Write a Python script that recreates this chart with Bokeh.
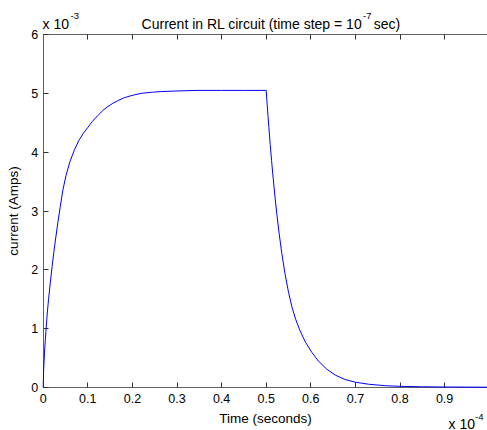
import math
from bokeh.plotting import figure
from bokeh.models import Range1d, LinearAxis, FixedTicker, Label, CustomJSTickFormatter
from bokeh.embed import file_html
from bokeh.resources import INLINE

# time in units of 1e-4 s, current in units of 1e-3 A
time_e4 = [0.0, 0.001, 0.003, 0.006, 0.009, 0.012, 0.016, 0.020, 0.024, 0.028,
           0.033, 0.038, 0.044, 0.051, 0.060, 0.070, 0.080, 0.090, 0.100, 0.110,
           0.122, 0.134, 0.144, 0.156, 0.167, 0.180, 0.190, 0.205, 0.220, 0.245,
           0.265, 0.300, 0.347, 0.400, 0.450, 0.500,
           0.5015, 0.504, 0.506, 0.509, 0.512, 0.516, 0.520, 0.524, 0.529, 0.535,
           0.542, 0.550, 0.558, 0.566, 0.575, 0.588, 0.602, 0.617, 0.636, 0.655,
           0.677, 0.700, 0.730, 0.768, 0.800, 0.850, 0.900, 1.000]
current_e3 = [0.0, 0.30, 0.60, 0.95, 1.25, 1.50, 1.79, 2.06, 2.31, 2.54,
              2.81, 3.06, 3.35, 3.60, 3.84, 4.04, 4.20, 4.32, 4.42, 4.52,
              4.62, 4.71, 4.77, 4.83, 4.875, 4.92, 4.945, 4.975, 5.00, 5.02,
              5.03, 5.04, 5.05, 5.05, 5.05, 5.05,
              4.88, 4.62, 4.42, 4.13, 3.86, 3.53, 3.22, 2.94, 2.62, 2.28,
              1.94, 1.62, 1.36, 1.16, 0.98, 0.77, 0.60, 0.45, 0.31, 0.21,
              0.135, 0.09, 0.055, 0.03, 0.02, 0.012, 0.008, 0.005]

x_ticks = [0, 0.1, 0.2, 0.3, 0.4, 0.5, 0.6, 0.7, 0.8, 0.9, 1.0]
y_ticks = [0, 1, 2, 3, 4, 5, 6]

title_main = "Current in RL circuit (time step = 10"
title_sup = "-7"
title_end = "sec)"
x_label = "Time (seconds)"
y_label = "current (Amps)"
x_mult, x_exp = "x 10", "-4"
y_mult, y_exp = "x 10", "-3"

FONT = "Liberation Sans"
W, H = 487, 430
# pixel layout of the axes box (from the reference)
AX_L, AX_T, AX_B = 42.7, 34.0, 387.0
PX_X = 446.0                     # pixels per 1e-4 s
PX_Y = (AX_B - AX_T) / 6.0       # pixels per 1e-3 A

x0 = -AX_L / PX_X
x1 = (W - AX_L) / PX_X
y0 = -(H - AX_B) / PX_Y
y1 = 6.0 + AX_T / PX_Y

p = figure(width=W, height=H, output_backend="svg", toolbar_location=None,
           x_range=Range1d(x0, x1), y_range=Range1d(y0, y1),
           min_border=0, x_axis_label=x_label, y_axis_label=y_label)
p.title.visible = False
p.grid.visible = False
p.outline_line_color = None
p.background_fill_color = "white"
p.border_fill_color = "white"

r = p.line(time_e4, current_e3, line_color="#0000ff", line_width=1.0)
r.level = "overlay"

fmt = CustomJSTickFormatter(code="return tick.toFixed(1).replace(/\\.0$/, '')")

for ax in (p.xaxis[0], p.yaxis[0]):
    ax.major_tick_in = 5
    ax.major_tick_out = 0
    ax.minor_tick_line_color = None
    ax.axis_line_color = "#606060"
    ax.major_tick_line_color = "#303030"
    ax.major_label_text_font = FONT
    ax.major_label_text_font_size = "12.5px"
    ax.major_label_text_color = "black"
    ax.axis_label_text_font = FONT
    ax.axis_label_text_font_size = "13.5px"
    ax.axis_label_text_font_style = "normal"
    ax.axis_label_text_color = "black"

xa = p.xaxis[0]
xa.ticker = FixedTicker(ticks=x_ticks)
xa.formatter = fmt
xa.fixed_location = 0
xa.bounds = (0, 1)
xa.major_label_standoff = 6
xa.axis_label_standoff = 5

ya = p.yaxis[0]
ya.ticker = FixedTicker(ticks=y_ticks)
ya.fixed_location = 0
ya.bounds = (0, 6)
ya.major_label_standoff = 5
ya.axis_label_standoff = 8

top = LinearAxis(ticker=FixedTicker(ticks=x_ticks),
                 formatter=CustomJSTickFormatter(code="return ''"),
                 fixed_location=6, bounds=(0, 1),
                 major_tick_in=5, major_tick_out=0, minor_tick_line_color=None,
                 axis_line_color="#606060", major_tick_line_color="#303030",
                 major_label_standoff=0, major_label_text_font_size="1px")
p.add_layout(top, "above")

# Label screen coordinates are measured from the frame's bottom-left corner (= canvas here)
DY = 5  # baseline correction for the rendered labels
def lab(text, x, y, size, align="left", baseline="alphabetic"):
    p.add_layout(Label(x=x, y=y + DY, x_units="screen", y_units="screen", text=text,
                       text_font=FONT, text_font_size=size, text_color="black",
                       text_align=align, text_baseline=baseline))

# title
lab(title_main, 361.7, H - 28, "14px", align="right")
lab(title_sup, 362.5, H - 20, "9.5px")
lab(title_end, 373.3, H - 28, "14px")
# y multiplier
lab(y_mult, 42, H - 28, "14px")
lab(y_exp, 70, H - 20, "9.5px")
# x multiplier (kept fully inside the picture)
lab(x_mult, 448, H - 428, "14px")
lab(x_exp, 474.5, H - 421, "9.5px")

open("out.html", "w").write(file_html(p, INLINE))
